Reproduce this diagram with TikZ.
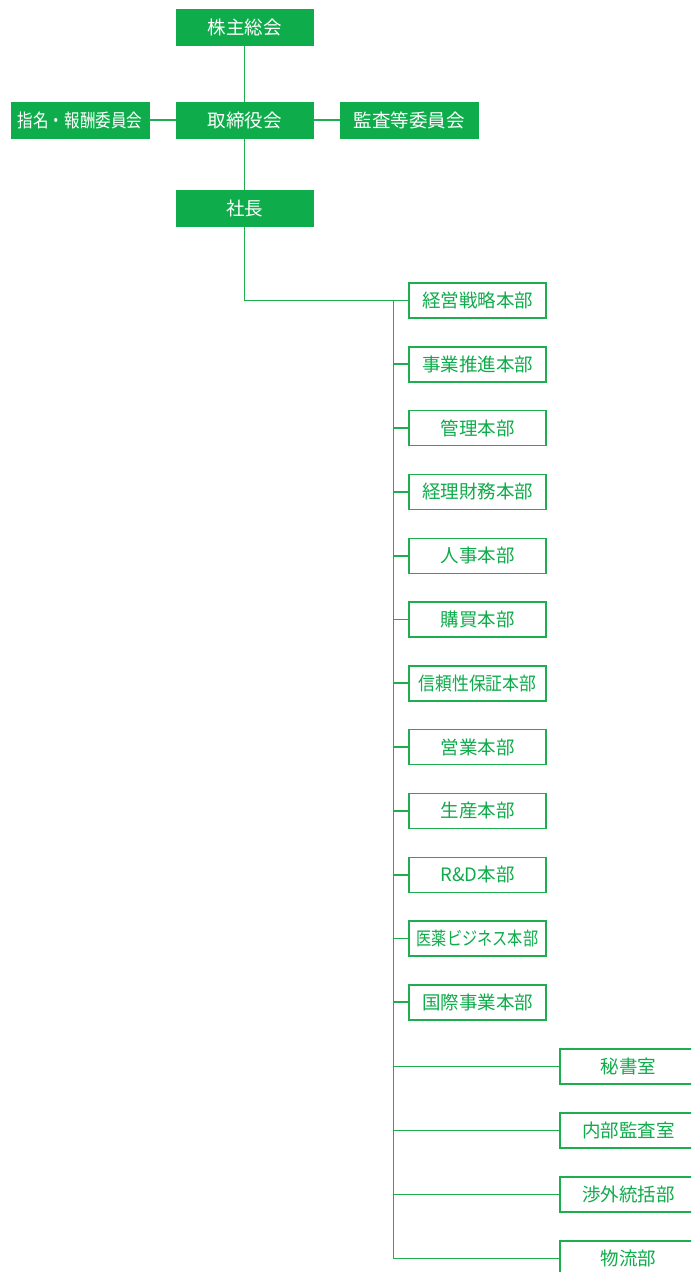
\documentclass[tikz,border=0pt]{standalone}
\usepackage{fontspec}
\setmainfont{Noto Sans CJK JP}
\usetikzlibrary{positioning}
\definecolor{orggreen}{RGB}{14,172,74}
\definecolor{linegreen}{RGB}{30,174,80}

\begin{document}
\begin{tikzpicture}[x=1pt, y=-1pt,
    topbox/.style={fill=orggreen, draw=orggreen, text=white, minimum width=137pt, minimum height=36pt, inner sep=0pt, font=\fontsize{18.5}{20}\selectfont},
    deptbox/.style={fill=white, draw=linegreen, line width=1.4pt, text=orggreen, minimum width=137pt, minimum height=35pt, inner sep=0pt, font=\fontsize{18.5}{20}\selectfont},
    link/.style={draw=linegreen, line width=1.9pt}]
    \clip (0,0) rectangle (691,1272);

    % Top management
    \node[topbox] (meeting) at (244.5,27) {株主総会};
    \node[topbox] (board) at (244.5,120) {取締役会};
    \node[topbox, minimum width=138pt] (nomination) at (80,120) {\scalebox{0.84}[1]{指名・報酬委員会}};
    \node[topbox, minimum width=138pt] (audit) at (409,120) {監査等委員会};
    \node[topbox] (president) at (244.5,208) {社長};
    \draw[link] (meeting) -- (board);
    \draw[link] (board) -- (president);
    \draw[link] (nomination) -- (board);
    \draw[link] (board) -- (audit);

    % Headquarters
    \node[deptbox] (strategy) at (477.5,300.5) {経営戦略本部};
    \node[deptbox] (promotion) at (477.5,364.3) {事業推進本部};
    \node[deptbox] (admin) at (477.5,428.1) {管理本部};
    \node[deptbox] (finance) at (477.5,491.9) {経理財務本部};
    \node[deptbox] (hr) at (477.5,555.7) {人事本部};
    \node[deptbox] (purchase) at (477.5,619.5) {購買本部};
    \node[deptbox] (quality) at (477.5,683.3) {\scalebox{0.91}[1]{信頼性保証本部}};
    \node[deptbox] (sales) at (477.5,747.1) {営業本部};
    \node[deptbox] (production) at (477.5,810.9) {生産本部};
    \node[deptbox] (rnd) at (477.5,874.7) {R\&D本部};
    \node[deptbox] (pharma) at (477.5,938.5) {\scalebox{0.82}[1]{医薬ビジネス本部}};
    \node[deptbox] (intl) at (477.5,1002.3) {国際事業本部};

    % Offices
    \node[deptbox] (secretary) at (628.5,1066.5) {秘書室};
    \node[deptbox] (internal) at (628.5,1130.5) {内部監査室};
    \node[deptbox] (external) at (628.5,1194.5) {渉外統括部};
    \node[deptbox] (logistics) at (628.5,1258.5) {物流部};

    % Trunk line
    \coordinate (trunktop) at (393.5,300.5);
    \coordinate (trunkbot) at (393.5,1258.5);
    \draw[link] (president.south) |- (strategy.west);
    \draw[link] (trunktop) -- (trunkbot);
    \draw[link] (promotion.west) -- (promotion.west -| trunktop);
    \draw[link] (admin.west) -- (admin.west -| trunktop);
    \draw[link] (finance.west) -- (finance.west -| trunktop);
    \draw[link] (hr.west) -- (hr.west -| trunktop);
    \draw[link] (purchase.west) -- (purchase.west -| trunktop);
    \draw[link] (quality.west) -- (quality.west -| trunktop);
    \draw[link] (sales.west) -- (sales.west -| trunktop);
    \draw[link] (production.west) -- (production.west -| trunktop);
    \draw[link] (rnd.west) -- (rnd.west -| trunktop);
    \draw[link] (pharma.west) -- (pharma.west -| trunktop);
    \draw[link] (intl.west) -- (intl.west -| trunktop);
    \draw[link] (secretary.west) -- (secretary.west -| trunktop);
    \draw[link] (internal.west) -- (internal.west -| trunktop);
    \draw[link] (external.west) -- (external.west -| trunktop);
    \draw[link] (logistics.west) -- (trunkbot);
\end{tikzpicture}
\end{document}
